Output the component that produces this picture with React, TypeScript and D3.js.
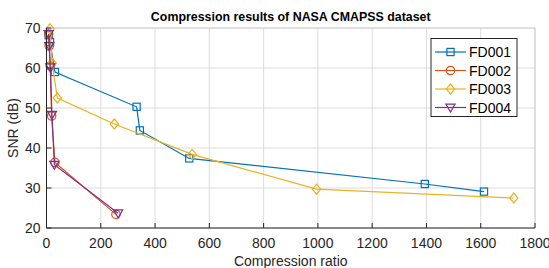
import { useRef, useEffect } from "react";
import * as d3 from "d3";

const seriesNames = ["FD001", "FD002", "FD003", "FD004"];
const colors = ["#0072BD", "#D95319", "#EDB120", "#7E2F8E"];
const markers = ["square", "circle", "diamond", "triangle"];

const fd001Ratio = [8, 13, 31, 332, 344, 526, 1394, 1612];
const fd001Snr = [68.2, 66.5, 59, 50.3, 44.4, 37.4, 31, 29.1];
const fd002Ratio = [8, 10, 14, 19, 31, 256];
const fd002Snr = [68.5, 65.5, 60.5, 48, 36.4, 23.4];
const fd003Ratio = [13, 21, 40, 250, 537, 995, 1722];
const fd003Snr = [69.8, 61.2, 52.5, 46, 38.4, 29.7, 27.5];
const fd004Ratio = [8, 10, 14, 20, 29, 264];
const fd004Snr = [68.5, 65.5, 60.2, 48.3, 35.8, 23.7];

const xTicks = [0, 200, 400, 600, 800, 1000, 1200, 1400, 1600, 1800];
const yTicks = [20, 30, 40, 50, 60, 70];

const ratios = [fd001Ratio, fd002Ratio, fd003Ratio, fd004Ratio];
const snrs = [fd001Snr, fd002Snr, fd003Snr, fd004Snr];

const W = 549;
const H = 268;
const margin = { left: 46.5, right: 14, top: 28, bottom: 40 };
const font = "'Liberation Sans', Arial, sans-serif";

function drawMarker(g: any, type: string, x: number, y: number, color: string) {
  const s = 3.6;
  if (type === "square") {
    g.append("rect").attr("x", x - s).attr("y", y - s).attr("width", 2 * s).attr("height", 2 * s);
  } else if (type === "circle") {
    g.append("circle").attr("cx", x).attr("cy", y).attr("r", 4.2);
  } else if (type === "diamond") {
    g.append("path").attr("d", `M${x},${y - 5}L${x + 4.2},${y}L${x},${y + 5}L${x - 4.2},${y}Z`);
  } else {
    g.append("path").attr("d", `M${x - 4.6},${y - 3.4}L${x + 4.6},${y - 3.4}L${x},${y + 4.6}Z`);
  }
  g.selectAll("*:last-child").attr("fill", "none").attr("stroke", color).attr("stroke-width", 1.2);
}

export default function App() {
  const svgRef = useRef<SVGSVGElement>(null);

  useEffect(() => {
    const svg = d3.select(svgRef.current);
    svg.selectAll("*").remove();

    const x = d3.scaleLinear().domain([0, 1800]).range([margin.left, W - margin.right]);
    const y = d3.scaleLinear().domain([20, 70]).range([H - margin.bottom, margin.top]);
    const [x0, x1] = x.range();
    const [y0, y1] = y.range();

    // Grid
    const grid = svg.append("g").attr("stroke", "#dcdcdc").attr("stroke-width", 1);
    xTicks.forEach((t) => {
      grid.append("line").attr("x1", x(t)).attr("x2", x(t)).attr("y1", y0).attr("y2", y1);
    });
    yTicks.forEach((t) => {
      grid.append("line").attr("x1", x0).attr("x2", x1).attr("y1", y(t)).attr("y2", y(t));
    });
    // light box top/right
    svg.append("line").attr("x1", x0).attr("x2", x1).attr("y1", y1).attr("y2", y1).attr("stroke", "#d0d0d0");
    svg.append("line").attr("x1", x1).attr("x2", x1).attr("y1", y0).attr("y2", y1).attr("stroke", "#d0d0d0");

    // Series
    ratios.forEach((rs, i) => {
      const pts: [number, number][] = rs.map((r, j) => [x(r), y(snrs[i][j])]);
      svg
        .append("path")
        .attr("d", d3.line()(pts))
        .attr("fill", "none")
        .attr("stroke", colors[i])
        .attr("stroke-width", 1.2);
      const mg = svg.append("g");
      pts.forEach(([px, py]) => drawMarker(mg, markers[i], px, py, colors[i]));
    });

    // Axes
    const ax = svg.append("g").attr("font-family", font).attr("font-size", 14).attr("fill", "#262626");
    ax.append("line").attr("x1", x0).attr("x2", x1).attr("y1", y0).attr("y2", y0).attr("stroke", "#262626");
    ax.append("line").attr("x1", x0).attr("x2", x0).attr("y1", y0).attr("y2", y1).attr("stroke", "#262626");
    xTicks.forEach((t) => {
      ax.append("line").attr("x1", x(t)).attr("x2", x(t)).attr("y1", y0).attr("y2", y0 - 5).attr("stroke", "#262626");
      ax.append("text").attr("x", x(t)).attr("y", y0 + 20).attr("text-anchor", "middle").text(t);
    });
    yTicks.forEach((t) => {
      ax.append("line").attr("x1", x0).attr("x2", x0 + 5).attr("y1", y(t)).attr("y2", y(t)).attr("stroke", "#262626");
      ax.append("text").attr("x", x0 - 6).attr("y", y(t) + 5).attr("text-anchor", "end").text(t);
    });
    ax.append("text")
      .attr("x", (x0 + x1) / 2)
      .attr("y", H - 2)
      .attr("text-anchor", "middle")
      .text("Compression ratio");
    ax.append("text")
      .attr("transform", `translate(18,${(y0 + y1) / 2}) rotate(-90)`)
      .attr("text-anchor", "middle")
      .text("SNR (dB)");

    svg.append("text")
      .attr("x", (x0 + x1) / 2)
      .attr("y", 21)
      .attr("text-anchor", "middle")
      .attr("font-family", font)
      .attr("font-weight", "bold")
      .attr("font-size", 12.4)
      .attr("fill", "#000")
      .text("Compression results of NASA CMAPSS dataset");

    // Legend
    const lg = svg.append("g").attr("transform", "translate(431,38.5)");
    lg.append("rect").attr("width", 86).attr("height", 78).attr("fill", "#fff").attr("stroke", "#262626").attr("stroke-width", 1);
    seriesNames.forEach((name, i) => {
      const cy = 13.5 + i * 18.5;
      lg.append("line").attr("x1", 4).attr("x2", 35).attr("y1", cy).attr("y2", cy).attr("stroke", colors[i]).attr("stroke-width", 1.2);
      const mg = lg.append("g");
      drawMarker(mg, markers[i], 19.5, cy, colors[i]);
      lg.append("text")
        .attr("x", 38)
        .attr("y", cy + 5)
        .attr("font-family", font)
        .attr("font-size", 14)
        .attr("fill", "#000")
        .text(name);
    });
  }, []);

  return (
    <svg
      ref={svgRef}
      width={W}
      height={H}
      style={{ position: "absolute", left: 0, top: 0, background: "#fff" }}
    />
  );
}
